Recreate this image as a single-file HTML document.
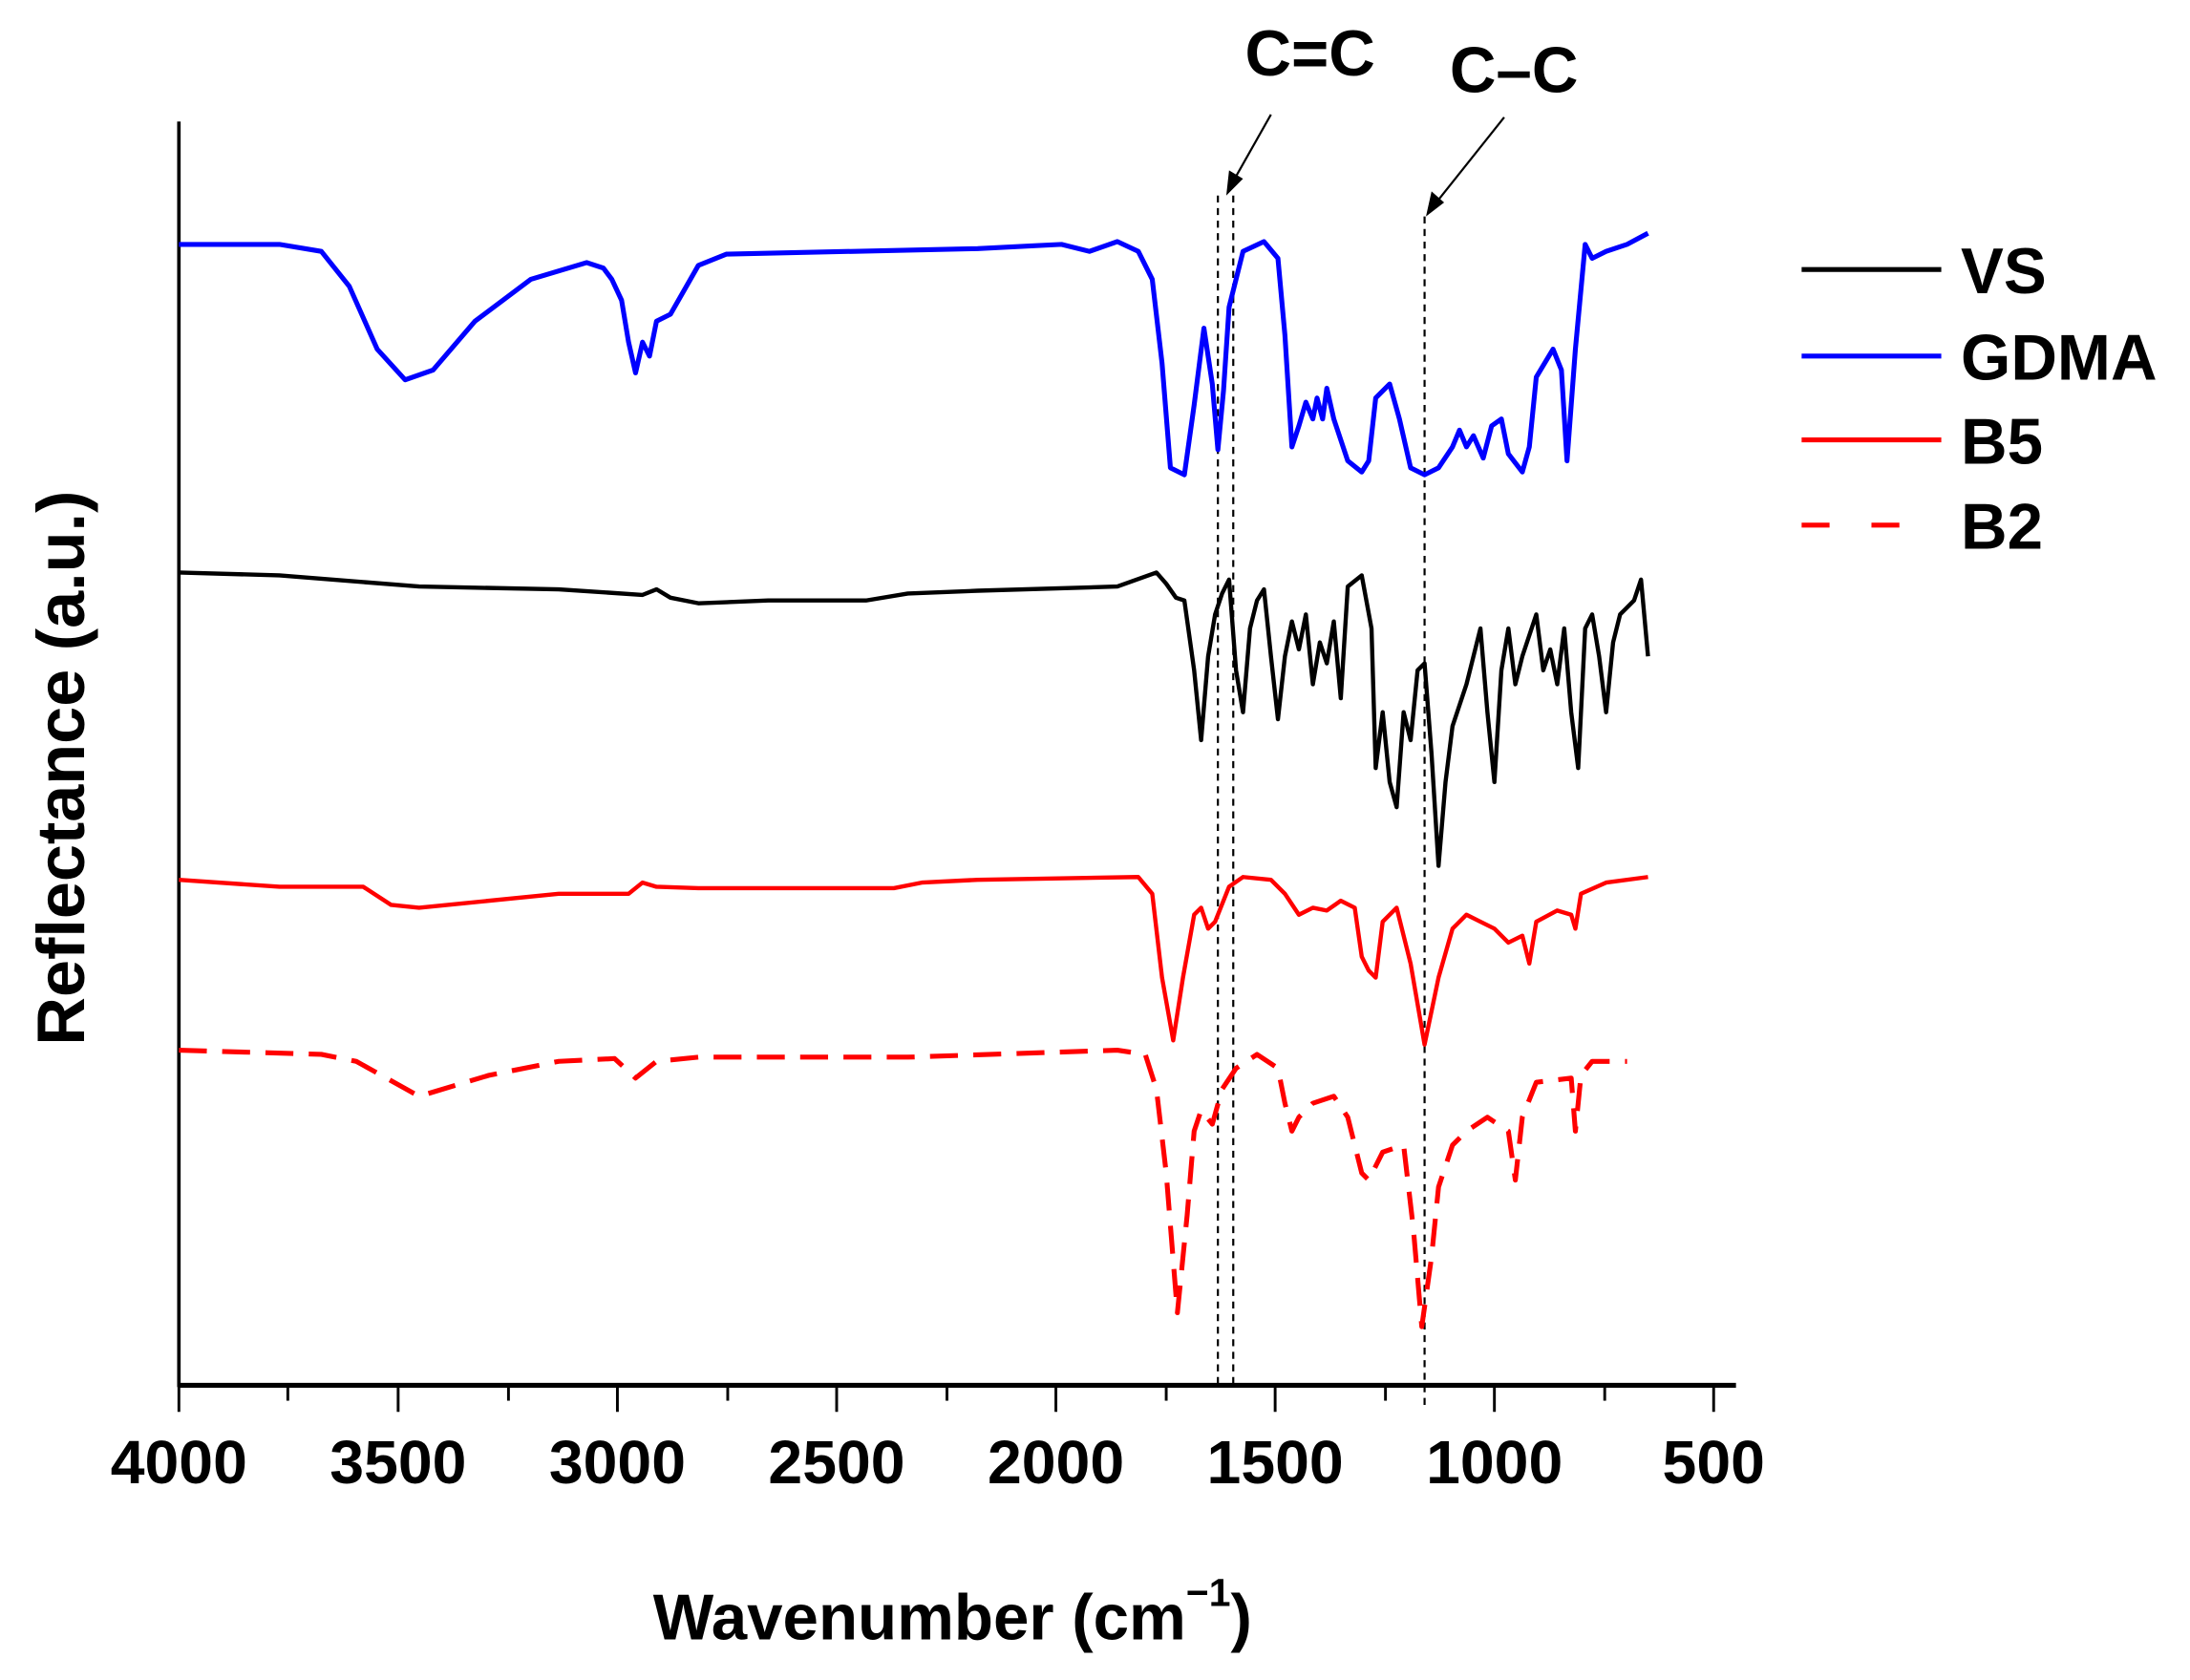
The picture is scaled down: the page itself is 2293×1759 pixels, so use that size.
<!DOCTYPE html>
<html><head><meta charset="utf-8"><style>
html,body{margin:0;padding:0;background:#fff;}
svg{display:block;}
text{font-family:"Liberation Sans",Arial,sans-serif;font-weight:bold;fill:#000;}
</style></head><body>
<svg width="2293" height="1759" viewBox="0 0 1568 1203" xmlns="http://www.w3.org/2000/svg">
<rect width="1568" height="1203" fill="#fff"/>
<line x1="128" y1="87" x2="128" y2="993" stroke="#000" stroke-width="2.5"/>
<line x1="127" y1="992" x2="1243" y2="992" stroke="#000" stroke-width="3.5"/>
<g stroke="#000" stroke-width="2">
<line x1="128" y1="992" x2="128" y2="1011"/><line x1="285" y1="992" x2="285" y2="1011"/><line x1="442" y1="992" x2="442" y2="1011"/><line x1="599" y1="992" x2="599" y2="1011"/><line x1="756" y1="992" x2="756" y2="1011"/><line x1="913" y1="992" x2="913" y2="1011"/><line x1="1070" y1="992" x2="1070" y2="1011"/><line x1="1227" y1="992" x2="1227" y2="1011"/>
<line x1="206" y1="992" x2="206" y2="1003"/><line x1="364" y1="992" x2="364" y2="1003"/><line x1="521" y1="992" x2="521" y2="1003"/><line x1="678" y1="992" x2="678" y2="1003"/><line x1="835" y1="992" x2="835" y2="1003"/><line x1="992" y1="992" x2="992" y2="1003"/><line x1="1149" y1="992" x2="1149" y2="1003"/>
</g>
<g font-size="44" text-anchor="middle">
<text x="128" y="1062">4000</text><text x="285" y="1062">3500</text><text x="442" y="1062">3000</text><text x="599" y="1062">2500</text><text x="756" y="1062">2000</text><text x="913" y="1062">1500</text><text x="1070" y="1062">1000</text><text x="1227" y="1062">500</text>
</g>
<text x="682" y="1174" font-size="46" text-anchor="middle">Wavenumber (cm<tspan font-size="28" dy="-24">−1</tspan><tspan dy="24">)</tspan></text>
<text transform="translate(60,550) rotate(-90)" font-size="48" text-anchor="middle">Reflectance (a.u.)</text>
<text x="938" y="54" font-size="46" text-anchor="middle">C=C</text>
<text x="1084" y="66" font-size="46" text-anchor="middle">C–C</text>
<g stroke="#000" stroke-width="1.5" stroke-dasharray="5,4" fill="none">
<line x1="872" y1="140" x2="872" y2="992"/><line x1="883" y1="140" x2="883" y2="992"/><line x1="1020" y1="155" x2="1020" y2="1010"/>
</g>
<line x1="910" y1="82" x2="884" y2="128" stroke="#000" stroke-width="1.5"/>
<polygon points="878,140 880,122 890,128" fill="#000"/>
<line x1="1077" y1="84" x2="1030" y2="143" stroke="#000" stroke-width="1.5"/>
<polygon points="1021,155 1025,137 1034,145" fill="#000"/>
<polyline fill="none" stroke="#0000ff" stroke-width="3.5" stroke-linejoin="round" points="128,175 200,175 230,180 250,205 270,250 290,272 310,265 340,230 380,200 420,188 432,192 438,200 445,215 450,245 455,267 460,245 465,255 470,230 480,225 500,190 520,182 700,178 760,175 780,180 800,173 815,180 825,200 832,260 838,335 848,340 855,290 862,235 868,275 872,322 876,280 880,220 890,180 905,173 915,185 920,240 925,320 930,305 935,288 940,300 943,285 947,300 950,278 955,300 965,330 975,338 980,330 985,285 995,275 1002,300 1010,335 1020,340 1030,335 1040,320 1045,308 1050,320 1055,312 1062,328 1068,305 1075,300 1080,325 1090,338 1095,320 1100,270 1106,260 1112,250 1118,265 1122,330 1128,250 1135,175 1140,185 1150,180 1165,175 1180,167"/>
<polyline fill="none" stroke="#000" stroke-width="3" stroke-linejoin="round" points="128,410 200,412 300,420 400,422 460,426 470,422 480,428 500,432 550,430 620,430 650,425 700,423 800,420 828,410 835,418 842,428 848,430 855,480 860,530 865,470 870,440 875,425 880,415 885,480 890,510 895,450 900,430 905,422 910,470 915,515 920,470 925,445 930,465 935,440 940,490 945,460 950,475 955,445 960,500 965,420 975,412 982,450 985,550 990,510 995,560 1000,578 1005,510 1010,530 1015,480 1020,475 1025,540 1030,620 1035,560 1040,520 1050,490 1055,470 1060,450 1065,510 1070,560 1075,480 1080,450 1085,490 1090,470 1100,440 1105,480 1110,465 1115,490 1120,450 1125,510 1130,550 1135,450 1140,440 1145,470 1150,510 1155,460 1160,440 1170,430 1175,415 1180,470"/>
<polyline fill="none" stroke="#ff0000" stroke-width="3" stroke-linejoin="round" points="128,630 200,635 260,635 280,648 300,650 400,640 450,640 460,632 470,635 500,636 640,636 660,632 700,630 815,628 825,640 832,700 840,745 847,700 855,655 860,650 865,665 870,660 880,635 890,628 910,630 920,640 930,655 940,650 950,652 960,645 970,650 975,685 980,695 985,700 990,660 1000,650 1010,690 1020,748 1030,700 1040,665 1050,655 1060,660 1070,665 1080,675 1090,670 1095,690 1100,660 1115,652 1125,655 1128,665 1132,640 1150,632 1180,628"/>
<polyline fill="none" stroke="#ff0000" stroke-width="3.5" stroke-dasharray="20,11" stroke-linejoin="round" points="128,752 230,755 255,760 300,785 350,770 400,760 440,758 455,772 470,760 500,757 650,757 800,752 820,755 828,780 835,840 843,940 850,870 855,810 860,795 868,805 875,780 885,765 900,755 915,765 920,790 925,810 930,800 940,790 955,785 965,800 975,840 980,845 990,825 1005,820 1012,880 1018,950 1025,900 1030,850 1040,820 1050,810 1065,800 1080,810 1085,845 1090,800 1100,775 1125,772 1128,810 1132,770 1140,760 1165,760"/>
<line x1="1290" y1="193" x2="1390" y2="193" stroke="#000" stroke-width="3.5"/>
<line x1="1290" y1="255" x2="1390" y2="255" stroke="#0000ff" stroke-width="3.5"/>
<line x1="1290" y1="315" x2="1390" y2="315" stroke="#ff0000" stroke-width="3.5"/>
<line x1="1290" y1="376" x2="1390" y2="376" stroke="#ff0000" stroke-width="3.5" stroke-dasharray="20,30"/>
<g font-size="46">
<text x="1404" y="210">VS</text><text x="1404" y="272">GDMA</text><text x="1404" y="332">B5</text><text x="1404" y="393">B2</text>
</g>
</svg>
</body></html>
